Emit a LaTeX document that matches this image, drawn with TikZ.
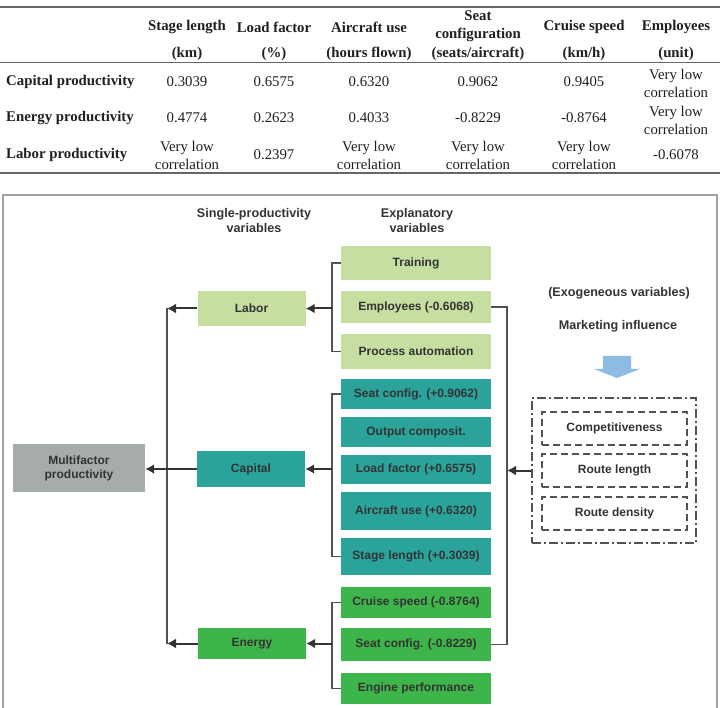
\documentclass[tikz,border=0pt]{standalone}
\usepackage{fontspec}
\setmainfont{Liberation Serif}
\newfontfamily\sansf{Liberation Sans}
\usetikzlibrary{arrows.meta}
\definecolor{lgreen}{HTML}{C6DFA1}
\definecolor{tealc}{HTML}{2AA39B}
\definecolor{mgreen}{HTML}{3DB54B}
\definecolor{mgray}{HTML}{A5ACA9}
\definecolor{txt}{HTML}{333333}
\definecolor{ruleg}{HTML}{666666}
\definecolor{arrowblue}{HTML}{8EBBE3}
\definecolor{frameg}{HTML}{A0A0A0}
\begin{document}
\begin{tikzpicture}[x=1pt,y=-1pt,
  tcell/.style={font=\fontsize{14.8}{18}\selectfont, text=black!88, inner sep=0pt, align=center},
  thead/.style={font=\fontsize{14.8}{18}\selectfont\bfseries, text=black!88, inner sep=0pt, align=center},
  dhead/.style={font=\sansf\bfseries\fontsize{12.6}{15}\selectfont, text=txt, inner sep=0pt, align=center},
  bx/.style={font=\sansf\bfseries\fontsize{12}{14}\selectfont, text=txt, inner sep=0pt, align=center},
  ex/.style={bx, minimum width=150pt},
  sp/.style={bx, minimum width=108pt},
  conn/.style={draw=txt!85, line width=1.1pt},
  arr/.style={draw=txt, line width=2pt, -{Latex[length=9pt,width=10pt]}},
  dbox/.style={bx, draw=txt!85, line width=1.2pt, dash pattern=on 7pt off 4pt, minimum width=145pt, minimum height=33pt}
]
\useasboundingbox (0,0) rectangle (720,708);

% ---------------- table ----------------
\draw[ruleg, line width=1.2pt] (0,7) -- (720,7);
\draw[ruleg, line width=1pt] (0,63) -- (720,63);
\draw[ruleg, line width=1.2pt] (0,173) -- (720,173);

\node[thead] (h1a) at (187,27) {Stage length};
\node[thead] (h1b) at (187,54) {(km)};
\node[thead] (h2a) at (274,27) {Load factor};
\node[thead] (h2b) at (274,54) {(\%)};
\node[thead] (h3a) at (369,27) {Aircraft use};
\node[thead] (h3b) at (369,54) {(hours flown)};
\node[thead] (h4a) at (478,26.5) {Seat\\configuration};
\node[thead] (h4b) at (478,54) {(seats/aircraft)};
\node[thead] (h5a) at (584,27) {Cruise speed};
\node[thead] (h5b) at (584,54) {(km/h)};
\node[thead] (h6a) at (676,27) {Employees};
\node[thead] (h6b) at (676,54) {(unit)};

\node[thead, anchor=west] (r1) at (6,82) {Capital productivity};
\node[thead, anchor=west] (r2) at (6,118) {Energy productivity};
\node[thead, anchor=west] (r3) at (6,155) {Labor productivity};

\node[tcell] (c11) at (187,82) {0.3039};
\node[tcell] (c12) at (274,82) {0.6575};
\node[tcell] (c13) at (369,82) {0.6320};
\node[tcell] (c14) at (478,82) {0.9062};
\node[tcell] (c15) at (584,82) {0.9405};
\node[tcell] (c16) at (676,83) {Very low\\correlation};

\node[tcell] (c21) at (187,118) {0.4774};
\node[tcell] (c22) at (274,118) {0.2623};
\node[tcell] (c23) at (369,118) {0.4033};
\node[tcell] (c24) at (478,118) {-0.8229};
\node[tcell] (c25) at (584,118) {-0.8764};
\node[tcell] (c26) at (676,120) {Very low\\correlation};

\node[tcell] (c31) at (187,155) {Very low\\correlation};
\node[tcell] (c32) at (274,155) {0.2397};
\node[tcell] (c33) at (369,155) {Very low\\correlation};
\node[tcell] (c34) at (478,155) {Very low\\correlation};
\node[tcell] (c35) at (584,155) {Very low\\correlation};
\node[tcell] (c36) at (676,155) {-0.6078};

% ---------------- diagram ----------------
\draw[frameg, line width=1.2pt] (3,195) rectangle (717,712);

\node[dhead] (hs) at (254,220.5) {Single-productivity\\variables};
\node[dhead] (he) at (417,220.5) {Explanatory\\variables};

\node[sp, fill=lgreen, minimum height=35pt] (labor) at (251.5,308.5) {Labor};
\node[sp, fill=tealc, minimum height=36pt] (capital) at (251,469) {Capital};
\node[sp, fill=mgreen, minimum height=31pt] (energy) at (252,643.5) {Energy};
\node[bx, fill=mgray, minimum width=132pt, minimum height=48pt] (multi) at (79,468) {Multifactor\\productivity};

\node[ex, fill=lgreen, minimum height=34pt] (tr) at (416,263) {Training};
\node[ex, fill=lgreen, minimum height=32pt] (emp) at (416,307) {Employees (-0.6068)};
\node[ex, fill=lgreen, minimum height=35pt] (pa) at (416,351.5) {Process automation};
\node[ex, fill=tealc, minimum height=30pt] (scp) at (416,394) {Seat config. (+0.9062)};
\node[ex, fill=tealc, minimum height=30pt] (oc) at (416,432) {Output composit.};
\node[ex, fill=tealc, minimum height=29pt] (lf) at (416,469.5) {Load factor (+0.6575)};
\node[ex, fill=tealc, minimum height=38pt] (au) at (416,511) {Aircraft use (+0.6320)};
\node[ex, fill=tealc, minimum height=37pt] (sl) at (416,556.5) {Stage length (+0.3039)};
\node[ex, fill=mgreen, minimum height=31pt] (cs) at (416,602.5) {Cruise speed (-0.8764)};
\node[ex, fill=mgreen, minimum height=33pt] (scm) at (416,644.5) {Seat config. (-0.8229)};
\node[ex, fill=mgreen, minimum height=31pt] (ep) at (416,688.5) {Engine performance};

\node[dhead] (exv) at (619,293) {(Exogeneous variables)};
\node[dhead] (mi) at (618,326) {Marketing influence};

\fill[arrowblue] (603,356) -- (631,356) -- (631,369) -- (640,369) -- (617,378) -- (594,369) -- (603,369) -- cycle;

\node[draw=txt!85, line width=1.3pt, dash pattern=on 9pt off 3pt on 2pt off 3pt,
      minimum width=164pt, minimum height=145pt, inner sep=0pt] (exo) at (614,470.5) {};
\node[dbox] (comp) at (614.5,428.5) {Competitiveness};
\node[dbox] (rl) at (614.5,470.5) {Route length};
\node[dbox] (rd) at (614.5,513.5) {Route density};

% brackets and arrows
\coordinate (lb) at (332,308.5);
\coordinate (cb) at (332,469);
\coordinate (eb) at (332,643.5);
\draw[conn] (tr.west) -| (lb) |- (pa.west);
\draw[conn] (scp.west) -| (cb) |- (sl.west);
\draw[conn] (cs.west) -| (eb) |- (ep.west);
\draw[arr] (lb) -- (labor.east);
\draw[arr] (cb) -- (capital.east);
\draw[arr] (eb) -- (energy.east);

\coordinate (xl1) at (167,308.5);
\coordinate (xl2) at (167,643.5);
\draw[conn] (xl1) -- (xl2);
\draw[arr] (labor.west) -- (xl1);
\draw[arr] (energy.west) -- (xl2);
\draw[arr] (capital.west) -- (multi.east |- capital.west);

\coordinate (xr) at (507,470.5);
\draw[conn] (emp.east) -| (xr) |- (scm.east);
\draw[arr] (exo.west) -- (xr);
\end{tikzpicture}
\end{document}
